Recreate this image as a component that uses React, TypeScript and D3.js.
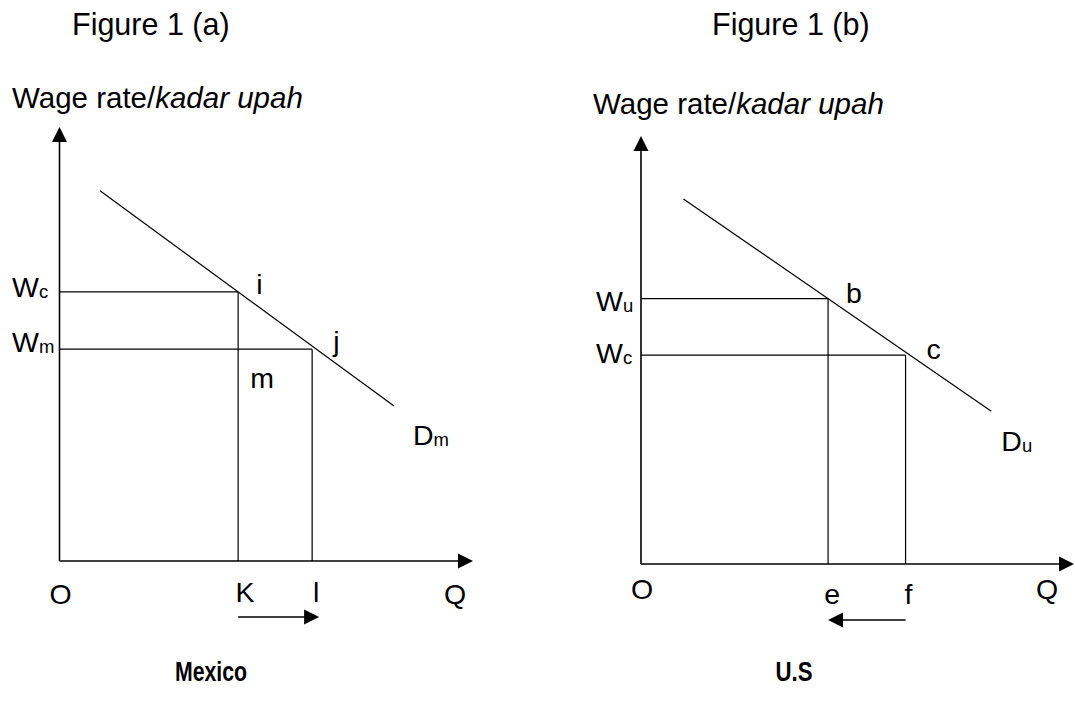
import React from "react";
import { scaleLinear, line } from "d3";

// values (both use the same 0-100 scale)
const panelTitles = ["Figure 1 (a)", "Figure 1 (b)"];
const countries = ["Mexico", "U.S"];
const wageSubs = [["c", "m"], ["u", "c"]];
const quantityLabels = [["K", "l"], ["e", "f"]];
const pointLabels = [["i", "j"], ["b", "c"]];
const demandSubs = ["m", "u"];
const wageLevels = [62.0, 48.8];
const quantityLevels = [43.2, 61.1];
const demandQ = [9.8, 80.9];
const demandW = [85.3, 35.7];
const shiftFrom = [0, 1]; // index of the level the arrow starts from

const FONT = "'Liberation Sans', Arial, Helvetica, sans-serif";
const FS = 28.5;
const SUB = 18.5;

const LAYOUT = [
  { x0: 59.5, x1: 473, y0: 561, y1: 127, titleX: 72, axisTitleX: 12, axisTitleY: 108, wX: 47.5, wDy: [5, 3], ptDx: [18, 21], ptDy: 2, dDx: 19, dDy: 39, oY: 604, qY: 602, qDx: [7, 4], arrowY: 617, arrowExtra: 7, countryX: 211, countryW: 72 },
  { x0: 641, x1: 1074, y0: 564, y1: 136, titleX: 712, axisTitleX: 593, axisTitleY: 114, wX: 45, wDy: [12, 8], ptDx: [18, 21], ptDy: 4, dDx: 10, dDy: 40, oY: 599, qY: 604, qDx: [4, 3], arrowY: 620, arrowExtra: 0, countryX: 794, countryW: 37 },
];

function Arrow({ x, y, dir }: { x: number; y: number; dir: "up" | "right" | "left" }) {
  const L = 15, H = 7.5;
  let pts: number[][];
  if (dir === "up") pts = [[x, y], [x - H, y + L], [x + H, y + L]];
  else if (dir === "right") pts = [[x, y], [x - L, y - H], [x - L, y + H]];
  else pts = [[x, y], [x + L, y - H], [x + L, y + H]];
  return <polygon points={pts.map((p) => p.join(",")).join(" ")} fill="#000" />;
}

function Panel({ idx }: { idx: number }) {
  const lay = LAYOUT[idx];
  const x = scaleLinear().domain([0, 100]).range([lay.x0, lay.x1]);
  const y = scaleLinear().domain([0, 100]).range([lay.y0, lay.y1]);
  const demandPath = line<number>()
    .x((d) => x(demandQ[d]))
    .y((d) => y(demandW[d]))([0, 1]);

  const from = shiftFrom[idx];
  const to = 1 - from;
  const ax0 = x(quantityLevels[from]);
  const ax1 = x(quantityLevels[to]) + (to > from ? lay.arrowExtra : 0);

  return (
    <g fontFamily={FONT} fontSize={FS} fill="#000">
      <text x={lay.titleX} y={35} fontSize={30.5}>{panelTitles[idx]}</text>
      <text x={lay.axisTitleX} y={lay.axisTitleY} fontSize={29.5}>
        Wage rate/<tspan fontStyle="italic">kadar upah</tspan>
      </text>

      {/* axes */}
      <line x1={x(0)} y1={y(0)} x2={x(0)} y2={y(100) + 10} stroke="#000" strokeWidth={1.6} />
      <line x1={x(0)} y1={y(0)} x2={x(100) - 10} y2={y(0)} stroke="#000" strokeWidth={1.6} />
      <Arrow x={x(0)} y={y(100)} dir="up" />
      <Arrow x={x(100)} y={y(0)} dir="right" />

      {/* guide lines */}
      {wageLevels.map((w, i) => (
        <line key={"h" + i} x1={x(0)} y1={y(w)} x2={x(quantityLevels[i])} y2={y(w)} stroke="#000" strokeWidth={1.2} />
      ))}
      {quantityLevels.map((q, i) => (
        <line key={"v" + i} x1={x(q)} y1={y(wageLevels[i])} x2={x(q)} y2={y(0)} stroke="#000" strokeWidth={1.2} />
      ))}

      <path d={demandPath || ""} stroke="#000" strokeWidth={1.2} fill="none" />

      {/* labels */}
      {wageLevels.map((w, i) => (
        <text key={"wl" + i} x={x(0) - lay.wX} y={y(w) + lay.wDy[i]}>
          W<tspan fontSize={SUB} dy={1}>{wageSubs[idx][i]}</tspan>
        </text>
      ))}
      {quantityLevels.map((q, i) => (
        <text key={"pl" + i} x={x(q) + lay.ptDx[i]} y={y(wageLevels[i]) + lay.ptDy}>
          {pointLabels[idx][i]}
        </text>
      ))}
      {quantityLevels.map((q, i) => (
        <text key={"ql" + i} x={x(q) + lay.qDx[i]} y={lay.qY} textAnchor="middle">
          {quantityLabels[idx][i]}
        </text>
      ))}
      <text x={x(0) + 1} y={lay.oY} textAnchor="middle">O</text>
      <text x={x(100) - (idx === 0 ? 18 : 27)} y={lay.oY} textAnchor="middle">Q</text>
      <text x={x(demandQ[1]) + lay.dDx} y={y(demandW[1]) + lay.dDy}>
        D<tspan fontSize={SUB} dy={1}>{demandSubs[idx]}</tspan>
      </text>
      {idx === 0 && (
        <text x={x(quantityLevels[0]) + 12} y={y(wageLevels[1]) + 39}>m</text>
      )}

      {/* shift arrow */}
      <line x1={ax0} y1={lay.arrowY} x2={ax1 + (ax1 > ax0 ? -10 : 10)} y2={lay.arrowY} stroke="#000" strokeWidth={1.4} />
      <Arrow x={ax1} y={lay.arrowY} dir={ax1 > ax0 ? "right" : "left"} />

      <text x={lay.countryX} y={681} textAnchor="middle" fontWeight="bold" fontSize={28}
        textLength={lay.countryW} lengthAdjust="spacingAndGlyphs">
        {countries[idx]}
      </text>
    </g>
  );
}

export default function App() {
  return (
    <svg width={1075} height={705} style={{ position: "absolute", left: 0, top: 0, background: "#fff" }}>
      <rect width={1075} height={705} fill="#fff" />
      <Panel idx={0} />
      <Panel idx={1} />
    </svg>
  );
}
